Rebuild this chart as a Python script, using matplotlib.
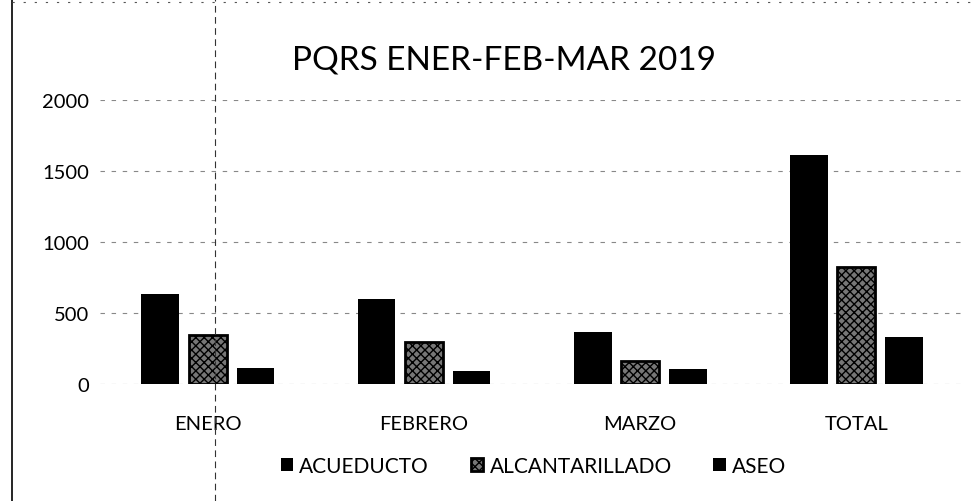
import matplotlib.pyplot as plt
import numpy as np
from matplotlib.lines import Line2D

plt.rcParams["font.family"] = ["Lato", "DejaVu Sans"]

MESES = ["ENERO", "FEBRERO", "MARZO", "TOTAL"]
ACUEDUCTO = [635, 600, 365, 1615]
ALCANTARILLADO = [345, 295, 162, 825]
ASEO = [115, 92, 106, 330]

fig = plt.figure(figsize=(9.79, 5.02), dpi=100)
ax = fig.add_axes([0.102, 0.233, 0.883, 0.566])

x = np.arange(len(MESES))
w = 0.175
ax.bar(x - 0.22, ACUEDUCTO, w, color="black", label="ACUEDUCTO", zorder=3)
ax.bar(x, ALCANTARILLADO, w, facecolor="#777777", edgecolor="black",
       hatch="xxxx", linewidth=2, label="ALCANTARILLADO", zorder=3)
ax.bar(x + 0.22, ASEO, w, color="black", label="ASEO", zorder=3)

ax.set_xlim(-0.5, 3.5)
ax.set_ylim(0, 2000)
ax.set_yticks([0, 500, 1000, 1500, 2000])
ax.set_xticks(x)
ax.set_xticklabels(MESES)
ax.tick_params(length=0, labelsize=14.5)
ax.tick_params(axis="y", pad=8)
ax.tick_params(axis="x", pad=22)
ax.grid(axis="y", color="#888888", linestyle=(0, (4, 6)), linewidth=0.8, zorder=0)
for s in ax.spines.values():
    s.set_visible(False)

fig.text(0.515, 0.88, "PQRS ENER-FEB-MAR 2019", ha="center", va="center", fontsize=24)

leg = fig.legend(loc="center", bbox_to_anchor=(0.545, 0.07), ncol=3, frameon=False,
                 fontsize=15, handlelength=0.6, handleheight=0.6, columnspacing=2.0,
                 handletextpad=0.3)

# marco del recuadro escaneado
fig.add_artist(Line2D([0.012, 0.012], [0.0, 1.0], color="black", linewidth=1.2))
fig.add_artist(Line2D([0.012, 1.0], [0.995, 0.995], color="#555555", linewidth=0.8,
                      linestyle=(0, (2, 8))))
fig.add_artist(Line2D([0.22, 0.22], [0.0, 1.0], color="#333333", linewidth=0.8,
                      linestyle=(0, (6, 4))))

fig.savefig("out.png", dpi=100)
